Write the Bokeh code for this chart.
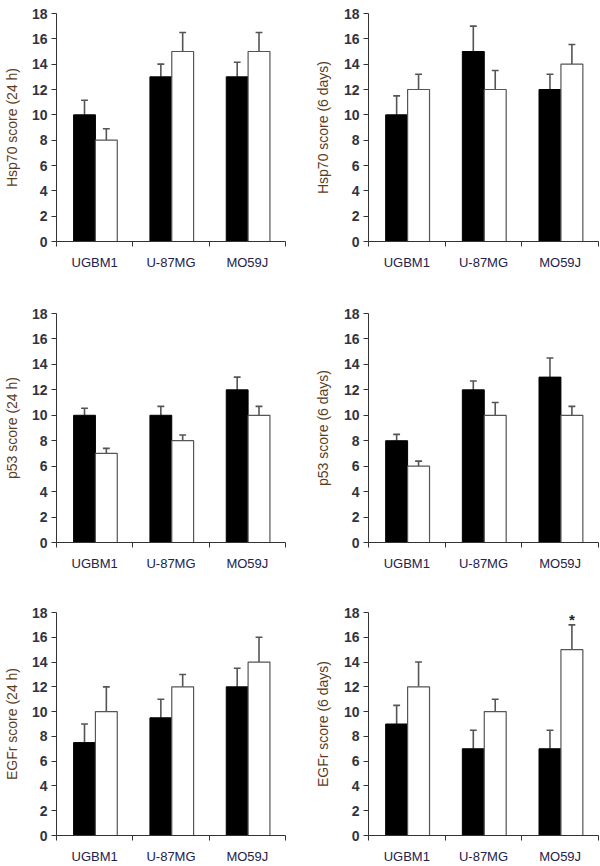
from bokeh.plotting import figure
from bokeh.layouts import column, row
from bokeh.models import Range1d, FixedTicker, LinearAxis
from bokeh.embed import file_html
from bokeh.resources import INLINE
from bokeh.core.properties import value

categories = ["UGBM1", "U-87MG", "MO59J"]
y_ticks = [0, 2, 4, 6, 8, 10, 12, 14, 16, 18]

hsp70_24h_black = [10, 13, 13]
hsp70_24h_black_err = [1.15, 1.0, 1.15]
hsp70_24h_white = [8, 15, 15]
hsp70_24h_white_err = [0.9, 1.5, 1.5]

hsp70_6d_black = [10, 15, 12]
hsp70_6d_black_err = [1.5, 2.0, 1.2]
hsp70_6d_white = [12, 12, 14]
hsp70_6d_white_err = [1.2, 1.5, 1.55]

p53_24h_black = [10, 10, 12]
p53_24h_black_err = [0.55, 0.7, 1.0]
p53_24h_white = [7, 8, 10]
p53_24h_white_err = [0.4, 0.45, 0.7]

p53_6d_black = [8, 12, 13]
p53_6d_black_err = [0.5, 0.7, 1.5]
p53_6d_white = [6, 10, 10]
p53_6d_white_err = [0.4, 1.0, 0.7]

egfr_24h_black = [7.5, 9.5, 12]
egfr_24h_black_err = [1.5, 1.5, 1.5]
egfr_24h_white = [10, 12, 14]
egfr_24h_white_err = [2.0, 1.0, 2.0]

egfr_6d_black = [9, 7, 7]
egfr_6d_black_err = [1.5, 1.5, 1.5]
egfr_6d_white = [12, 10, 15]
egfr_6d_white_err = [2.0, 1.0, 2.0]

significance = ["", "", "*"]  # marks above the white bars of EGFr (6 days)

FONT = "Liberation Sans"
AXIS_COLOR = "#333333"
BAR_LINE = "#555555"
LABEL_COLOR = "#5c3d1e"
TICK_COLOR = "#333340"
XLABEL_COLOR = "#22224a"


def panel(ylabel, black, black_err, white, white_err, width, height,
          left, right, top, bottom, label_standoff, marks=None):
    p = figure(width=width, height=height, output_backend="svg",
               toolbar_location=None, x_range=Range1d(0, 3),
               y_range=Range1d(0, 18), x_axis_type=None, y_axis_type=None,
               min_border_left=left, min_border_right=right,
               min_border_top=top, min_border_bottom=bottom)
    p.outline_line_color = None
    p.grid.visible = False
    p.background_fill_color = "white"
    p.border_fill_color = "white"

    yax = LinearAxis(ticker=FixedTicker(ticks=y_ticks))
    yax.axis_label = ylabel
    yax.axis_label_text_font = FONT
    yax.axis_label_text_font_size = "14px"
    yax.axis_label_text_font_style = "normal"
    yax.axis_label_text_color = LABEL_COLOR
    yax.axis_label_standoff = label_standoff
    yax.major_label_text_font = FONT
    yax.major_label_text_font_size = "14px"
    yax.major_label_text_font_style = "bold"
    yax.major_label_text_color = TICK_COLOR
    yax.major_label_standoff = 4
    yax.axis_line_color = AXIS_COLOR
    yax.major_tick_line_color = AXIS_COLOR
    yax.major_tick_in = 0
    yax.major_tick_out = 5
    yax.minor_tick_line_color = None
    p.add_layout(yax, "left")

    centers = [i + 0.5 for i in range(len(categories))]
    xax = LinearAxis(ticker=FixedTicker(ticks=centers,
                                        minor_ticks=list(range(len(categories) + 1))))
    xax.major_label_overrides = {c: name for c, name in zip(centers, categories)}
    xax.major_label_text_font = FONT
    xax.major_label_text_font_size = "13px"
    xax.major_label_text_color = XLABEL_COLOR
    xax.major_label_standoff = 8
    xax.axis_line_color = AXIS_COLOR
    xax.major_tick_line_color = None
    xax.major_tick_in = 0
    xax.major_tick_out = 0
    xax.minor_tick_line_color = AXIS_COLOR
    xax.minor_tick_in = 0
    xax.minor_tick_out = 5
    p.add_layout(xax, "below")

    bw = 0.286
    shift = 0.51
    xb = [i + shift - bw / 2 for i in range(len(categories))]
    xw = [i + shift + bw / 2 for i in range(len(categories))]

    # error bars (upward only)
    cap = 0.045
    for xs, vals, errs in ((xb, black, black_err), (xw, white, white_err)):
        tops = [v + e for v, e in zip(vals, errs)]
        p.segment(x0=xs, y0=vals, x1=xs, y1=tops, line_color=BAR_LINE, line_width=1.6)
        p.segment(x0=[x - cap for x in xs], y0=tops, x1=[x + cap for x in xs], y1=tops,
                  line_color=BAR_LINE, line_width=1.6)

    p.vbar(x=xb, top=black, width=bw, bottom=0, fill_color="black", line_color="black",
           line_width=1)
    p.vbar(x=xw, top=white, width=bw, bottom=0, fill_color="white", line_color=BAR_LINE,
           line_width=1.2)

    if marks is not None:
        mx, my, mt = [], [], []
        for x, v, e, m in zip(xw, white, white_err, marks):
            if m:
                mx.append(x)
                my.append(v + e + 0.45)
                mt.append(m)
        p.text(x=mx, y=my, text=mt, text_font=value(FONT), text_font_size="15px",
               text_font_style="bold", text_align="center", text_baseline="middle",
               text_color="#222222")
    return p


LW, RW = 300, 300
p1 = panel("Hsp70 score (24 h)", hsp70_24h_black, hsp70_24h_black_err,
           hsp70_24h_white, hsp70_24h_white_err, LW, 290, 52, 15, 11, 49, 9)
p2 = panel("Hsp70 score (6 days)", hsp70_6d_black, hsp70_6d_black_err,
           hsp70_6d_white, hsp70_6d_white_err, RW, 290, 68, 2, 13, 46, 10)
p3 = panel("p53 score (24 h)", p53_24h_black, p53_24h_black_err,
           p53_24h_white, p53_24h_white_err, LW, 290, 52, 15, 20, 38, 9)
p4 = panel("p53 score (6 days)", p53_6d_black, p53_6d_black_err,
           p53_6d_white, p53_6d_white_err, RW, 290, 68, 2, 23, 34, 10)
p5 = panel("EGFr score (24 h)", egfr_24h_black, egfr_24h_black_err,
           egfr_24h_white, egfr_24h_white_err, LW, 286, 52, 15, 31, 24, 9)
p6 = panel("EGFr score (6 days)", egfr_6d_black, egfr_6d_black_err,
           egfr_6d_white, egfr_6d_white_err, RW, 286, 68, 2, 32, 24, 10,
           marks=significance)

layout = column(row(p1, p2), row(p3, p4), row(p5, p6))
open("out.html", "w").write(file_html(layout, INLINE))
